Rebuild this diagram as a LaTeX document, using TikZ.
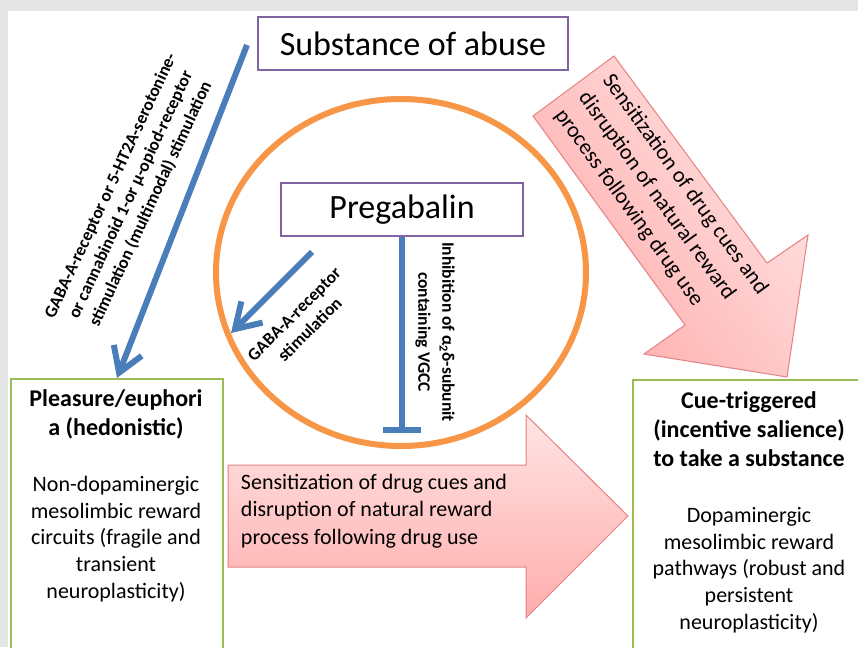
\documentclass[tikz,border=0pt]{standalone}
\usepackage{fontspec}
\setmainfont{Carlito}
\usetikzlibrary{arrows.meta}

\definecolor{abusepurple}{RGB}{128,100,162}
\definecolor{pregorange}{RGB}{247,150,70}
\definecolor{pathblue}{RGB}{74,126,187}
\definecolor{boxgreen}{RGB}{155,187,89}
\definecolor{pinklight}{RGB}{255,228,228}
\definecolor{pinkdark}{RGB}{255,172,172}
\definecolor{pinkline}{RGB}{228,130,130}
\definecolor{pagegray}{RGB}{229,229,229}

\begin{document}
\begin{tikzpicture}[x=1pt, y=-1pt,
    drugbox/.style={draw=abusepurple, line width=2pt, fill=white, inner sep=0pt,
      minimum height=53pt, font=\fontsize{34}{40}\selectfont},
    outcomebox/.style={draw=boxgreen, line width=2pt, fill=white, anchor=north west, minimum height=320pt},
    headtext/.style={align=center, font=\bfseries\fontsize{24}{29}\selectfont},
    bodytext/.style={align=center, font=\fontsize{22}{26.8}\selectfont},
    pathway/.style={draw=pathblue, line width=6pt},
    stim/.style={pathway, -{Straight Barb[length=24pt, width=30pt]}},
    pathlabel/.style={align=center, font=\bfseries\fontsize{17.5}{22}\selectfont},
    bigarrow/.style={draw=pinkline, line width=1pt, top color=pinklight, bottom color=pinkdark},
    arrowlabel/.style={align=left, font=\fontsize{22}{27.5}\selectfont}]

    \useasboundingbox (0,0) rectangle (858,647);
    \fill[pagegray] (0,0) rectangle (858,647);
    \fill[white] (8,11) rectangle (858,647);
    \clip (0,0) rectangle (858,647);

    % pink arrows
    \path[bigarrow] (228,465) -- (526,465) -- (526,415) -- (628,516) -- (526,618) -- (526,567) -- (228,567) -- cycle;
    \path[bigarrow, shading angle=-54] (614,56) -- (767,263) -- (808,235) -- (787,377) -- (644,354) -- (685,325) -- (533,116) -- cycle;

    % orange ring
    \draw[pregorange, line width=6pt] (401,272.5) ellipse [x radius=185, y radius=173.5];

    \node[drugbox, minimum width=310pt] (abuse) at (413,43.5) {Substance of abuse};
    \node[drugbox, minimum width=242pt] (pregabalin) at (402,209.5) {Pregabalin};
    \node[outcomebox, minimum width=212pt] (pleasure) at (10,378) {};
    \node[outcomebox, minimum width=236pt] (cue) at (632,379) {};

    \node[headtext] (pleasurehead) at (116,414) {Pleasure/euphori\\a (hedonistic)};
    \node[bodytext] (pleasurebody) at (116,539) {Non-dopaminergic\\mesolimbic reward\\circuits (fragile and\\transient\\neuroplasticity)};
    \node[headtext] (cuehead) at (749,429) {Cue-triggered\\(incentive salience)\\to take a substance};
    \node[bodytext] (cuebody) at (749,570) {Dopaminergic\\mesolimbic reward\\pathways (robust and\\persistent\\neuroplasticity)};

    \node[arrowlabel] (sensflat) at (374,511) {Sensitization of drug cues and\\disruption of natural reward\\process following drug use};
    \node[arrowlabel, rotate=-54, font=\fontsize{22}{29.5}\selectfont] (sensdiag) at (661,202) {Sensitization of drug cues and\\disruption of natural reward\\process following drug use};

    \node[pathlabel, rotate=65] (multilabel) at (131,195) {GABA-A-receptor or 5-HT2A-serotonine-\\or cannabinoid 1-or μ-opiod-receptor\\stimulation (multimodal) stimulation};
    \node[pathlabel, rotate=45] (gabalabel) at (302,322) {GABA-A-receptor\\stimulation};
    \node[pathlabel, rotate=-90, font=\bfseries\fontsize{17.5}{24}\selectfont] (vgcclabel) at (435,332) {Inhibition of α\textsubscript{2}δ-subunit\\containing VGCC};

    % blue pathways
    \coordinate (abusestart) at (247,45);
    \coordinate (gabastart) at (312,252);
    \coordinate (gabaend) at (231,333);
    \coordinate (vgcc) at (402,433);
    \draw[stim] (abusestart) -- (pleasure.north);
    \draw[stim] (gabastart) -- (gabaend);
    \draw[pathway, -{Bar[width=38pt]}] (pregabalin.south) -- (vgcc);

\end{tikzpicture}
\end{document}
